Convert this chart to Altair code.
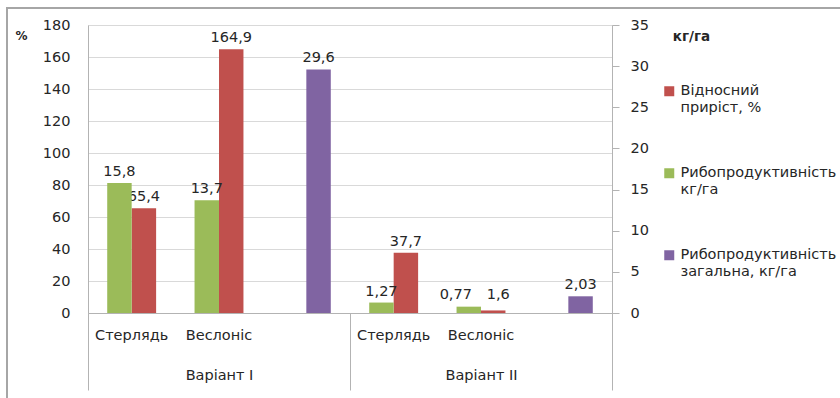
import altair as alt
import pandas as pd

variants = ["Варіант І", "Варіант ІІ"]
fish = ["Стерлядь", "Веслоніс", ""]
growth_pct = [65.4, 164.9, None, 37.7, 1.6, None]      # red, left axis (%)
prod_kg = [15.8, 13.7, None, 1.27, 0.77, None]          # green, right axis (kg/ha)
total_kg = [None, None, 29.6, None, None, 2.03]         # purple, right axis (kg/ha)

series_names = ["Відносний|приріст, %", "Рибопродуктивність| кг/га",
                "Рибопродуктивність|загальна, кг/га"]
colors = ["#C0504D", "#9BBB59", "#8064A2"]
left_ticks = [0, 20, 40, 60, 80, 100, 120, 140, 160, 180]
right_ticks = [0, 5, 10, 15, 20, 25, 30, 35]

slots = []
for vi, v in enumerate(variants):
    for f in fish:
        slots.append(f"{f}|{vi}")

def rows(values, series, pos):
    out = []
    for s, val in zip(slots, values):
        if val is not None:
            out.append({"slot": s, "value": val, "series": series, "pos": pos})
    return out

red_df = pd.DataFrame(rows(growth_pct, series_names[0], 1))
kg_df = pd.DataFrame(rows(prod_kg, series_names[1], 0) + rows(total_kg, series_names[2], 1))
var_df = pd.DataFrame({"variant": variants})

FONT = "DejaVu Sans"
FS = 14.5
TXT = "#262626"
GRID = "#d9d9d9"
LINE = "#b3b3b3"

xscale = alt.Scale(domain=slots, paddingInner=0.44, paddingOuter=0.22)
offscale = alt.Scale(domain=[0, 1], paddingInner=0, paddingOuter=0)
colorscale = alt.Scale(domain=series_names, range=colors)

legend = alt.Legend(orient="none", legendX=574, legendY=59, title=None,
                    labelExpr="split(datum.label, '|')", rowPadding=50,
                    symbolType="square", symbolSize=100, symbolStrokeWidth=0,
                    labelFontSize=FS, labelFont=FONT, labelColor=TXT,
                    labelLimit=0, labelOffset=4, padding=0)

x_axis = alt.Axis(title=None, labelExpr="split(datum.value, '|')[0]", ticks=False,
                  tickSize=0, labelPadding=15, labelAngle=0, domain=True,
                  domainColor=LINE, labelFontSize=FS, labelFont=FONT, labelColor=TXT)

left_axis = alt.Axis(title="%", titleAngle=0, titleX=-67, titleY=10, titleFontSize=12,
                     titleFontWeight="bold", titleFont=FONT, titleColor=TXT,
                     titleAlign="center", titleBaseline="middle",
                     values=left_ticks, grid=True, gridColor=GRID, ticks=False, tickSize=0,
                     labelPadding=18, domainColor=LINE, labelFontSize=FS, labelFont=FONT,
                     labelColor=TXT)

right_axis = alt.Axis(orient="right", title="кг/га", titleAngle=0, titleX=79, titleY=11,
                      titleFontSize=13.5, titleFontWeight="bold", titleFont=FONT,
                      titleColor=TXT, titleAlign="center", titleBaseline="middle",
                      values=right_ticks, grid=False, tickSize=7, tickColor=LINE,
                      domainColor=LINE, labelPadding=11, labelFontSize=FS,
                      labelFont=FONT, labelColor=TXT)

label_expr = "replace(toString(datum.value), '.', ',')"

def text_mark(**kw):
    base = dict(baseline="bottom", dy=-4, fontSize=FS, font=FONT, color=TXT)
    base.update(kw)
    return base

red_base = alt.Chart(red_df).transform_calculate(label=label_expr)
red_enc = dict(
    x=alt.X("slot:N", scale=xscale, sort=slots, axis=x_axis),
    xOffset=alt.XOffset("pos:O", scale=offscale),
    y=alt.Y("value:Q", scale=alt.Scale(domain=[0, 180], nice=False), axis=left_axis),
)
red_layer = alt.layer(
    red_base.mark_bar().encode(color=alt.Color("series:N", scale=colorscale, legend=legend), **red_enc),
    red_base.transform_filter("datum.value >= 5").mark_text(**text_mark()).encode(
        text="label:N", **red_enc),
    # Excel nudges the tiny label up/right so it clears its neighbour
    red_base.transform_filter("datum.value < 5").mark_text(**text_mark(dx=5, dy=-8)).encode(
        text="label:N", **red_enc),
)

kg_base = alt.Chart(kg_df).transform_calculate(label=label_expr)
kg_enc = dict(
    x=alt.X("slot:N", scale=xscale, sort=slots, axis=None),
    xOffset=alt.XOffset("pos:O", scale=offscale),
    y=alt.Y("value:Q", scale=alt.Scale(domain=[0, 35], nice=False), axis=right_axis),
)
kg_layer = alt.layer(
    kg_base.mark_bar().encode(color=alt.Color("series:N", scale=colorscale, legend=legend), **kg_enc),
    kg_base.transform_filter("datum.value >= 1").mark_text(**text_mark()).encode(
        text="label:N", **kg_enc),
    kg_base.transform_filter("datum.value < 1").mark_text(**text_mark(dx=-13, dy=-5)).encode(
        text="label:N", **kg_enc),
)

var_layer = alt.Chart(var_df).mark_text(text="", opacity=0).encode(
    x=alt.X("variant:N", sort=variants,
            scale=alt.Scale(domain=variants, paddingInner=0, paddingOuter=0),
            axis=alt.Axis(title=None, orient="bottom", labelAngle=0, tickSize=77,
                          tickBand="extent", tickColor=LINE, domain=False,
                          labelPadding=-22, labelFontSize=FS, labelFont=FONT,
                          labelColor=TXT)),
)

border = alt.Chart(pd.DataFrame({"k": [0]})).mark_rect(
    fill=None, stroke="#a6a6a6", strokeWidth=2).encode(
    x=alt.value(-81), x2=alt.value(800), y=alt.value(-17), y2=alt.value(420))

chart = alt.layer(border, red_layer, kg_layer, var_layer).resolve_scale(
    x="independent", y="independent", xOffset="independent"
).properties(
    width=524, height=288,
    padding={"left": 88, "top": 25, "right": 228, "bottom": 85},
    autosize=alt.AutoSizeParams(type="none"),
).configure_view(stroke=None).configure(font=FONT)

chart.save("out.html", embed_options={"renderer": "svg", "actions": False})
